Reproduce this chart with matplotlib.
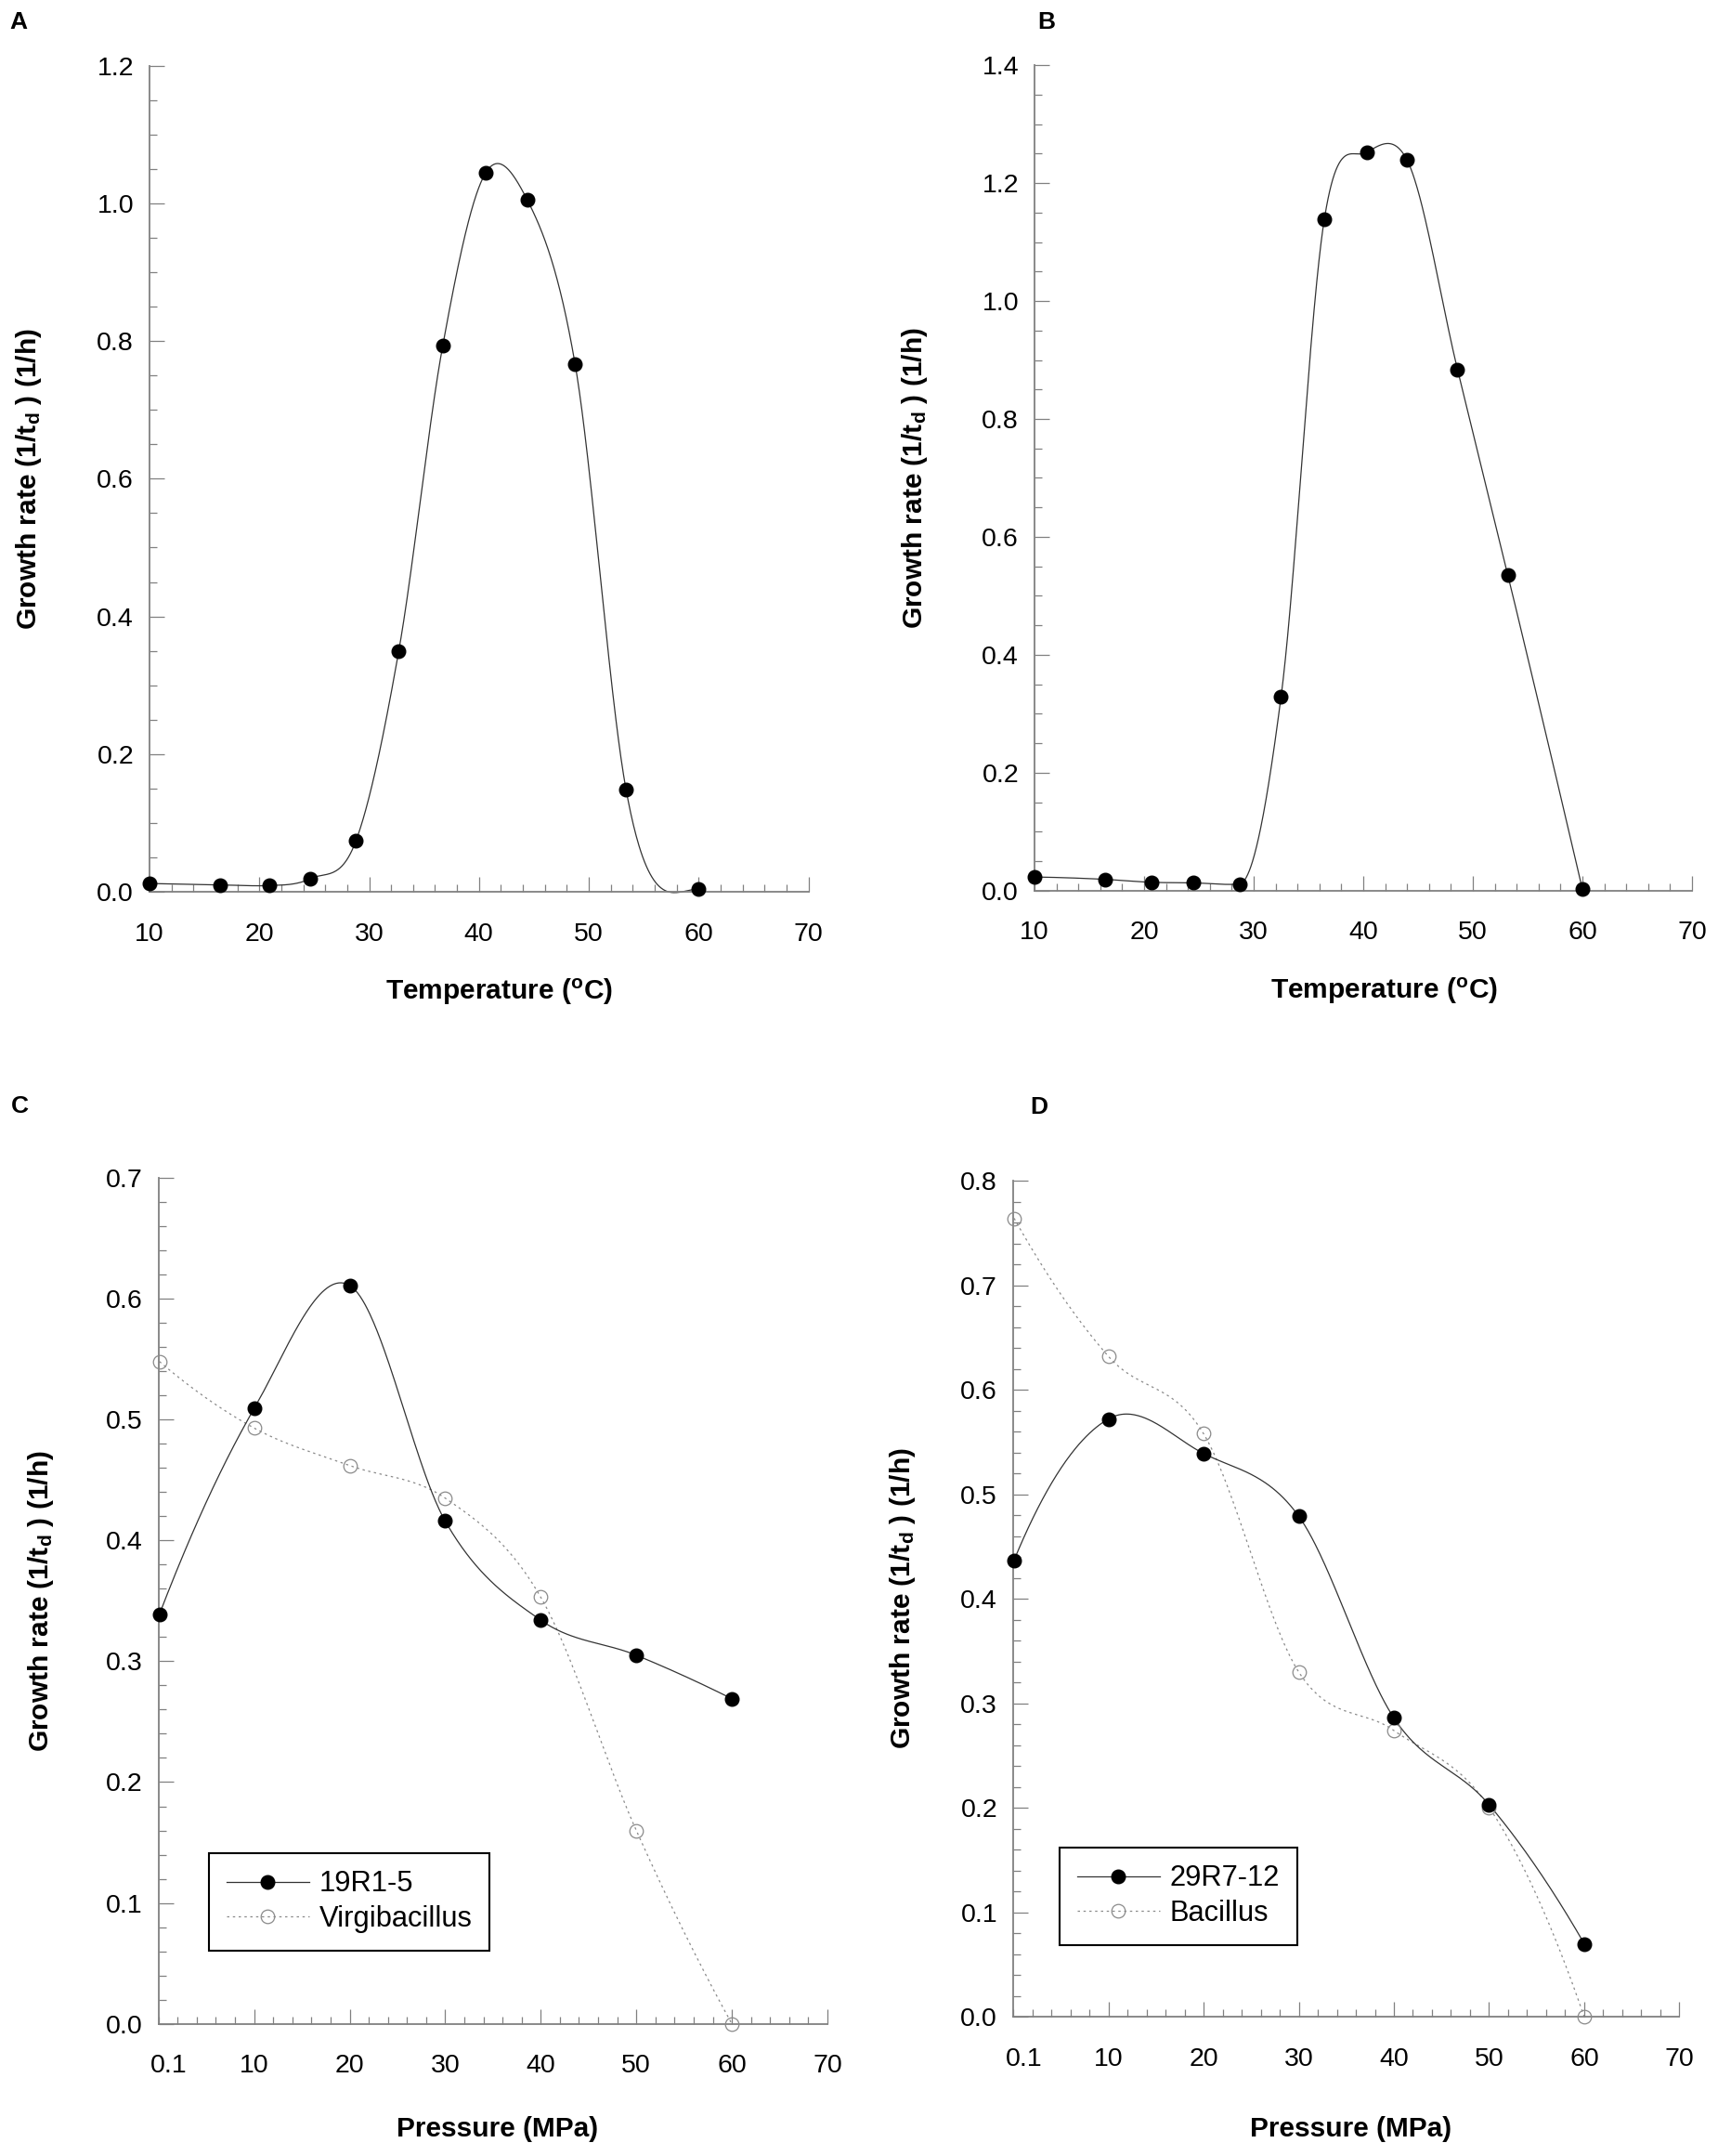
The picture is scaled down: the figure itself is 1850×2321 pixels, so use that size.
import numpy as np
import matplotlib
matplotlib.use("Agg")
import matplotlib.pyplot as plt
from matplotlib.lines import Line2D
from matplotlib.ticker import MultipleLocator, FixedLocator, FixedFormatter, FormatStrFormatter

plt.rcParams['font.family'] = ['Liberation Sans', 'DejaVu Sans']
plt.rcParams['mathtext.fontset'] = 'custom'
plt.rcParams['mathtext.rm'] = 'Liberation Sans:bold'
plt.rcParams['mathtext.it'] = 'Liberation Sans:bold'
plt.rcParams['mathtext.bf'] = 'Liberation Sans:bold'

# ---------------- data ----------------
temp_a = [10, 16.4, 20.9, 24.65, 28.8, 32.7, 36.7, 40.6, 44.4, 48.75, 53.4, 60]
rate_a = [0.012, 0.010, 0.009, 0.019, 0.074, 0.350, 0.793, 1.044, 1.005, 0.767, 0.148, 0.004]

temp_b = [10, 16.4, 20.7, 24.5, 28.7, 32.5, 36.45, 40.3, 44.0, 48.6, 53.2, 60]
rate_b = [0.023, 0.019, 0.014, 0.013, 0.011, 0.329, 1.139, 1.252, 1.239, 0.884, 0.535, 0.002]

pressure = [0.1, 10, 20, 30, 40, 50, 60]
rate_19r1_5 = [0.339, 0.509, 0.611, 0.416, 0.334, 0.305, 0.269]
rate_virgibacillus = [0.548, 0.493, 0.462, 0.435, 0.353, 0.160, 0.0]
rate_29r7_12 = [0.437, 0.572, 0.539, 0.479, 0.286, 0.203, 0.070]
rate_bacillus = [0.764, 0.632, 0.558, 0.330, 0.274, 0.2005, 0.0]

temp_ticks = [10, 20, 30, 40, 50, 60, 70]
temp_ticklabels = ['10', '20', '30', '40', '50', '60', '70']
press_ticks = [1.1, 10, 20, 30, 40, 50, 60, 70]
press_ticklabels = ['0.1', '10', '20', '30', '40', '50', '60', '70']

ylabel = 'Growth rate (1/t$_\\mathrm{d}$ ) (1/h)'
xlabel_temp = 'Temperature ($^\\mathrm{o}$C)'
xlabel_press = 'Pressure (MPa)'


def smooth_curve(x, y, n=80):
    """Smooth Hermite curve through the points (drawing only)."""
    x = np.asarray(x, float)
    y = np.asarray(y, float)
    h = np.diff(x)
    d = np.diff(y) / h
    k = len(x)
    m = np.zeros(k)
    for i in range(1, k - 1):
        m[i] = (d[i - 1] * h[i] + d[i] * h[i - 1]) / (h[i - 1] + h[i])
        if d[i - 1] * d[i] <= 0:
            lim = 3 * min(abs(d[i - 1]), abs(d[i]))
            m[i] = np.clip(m[i], -lim, lim)
    m0 = ((2 * h[0] + h[1]) * d[0] - h[0] * d[1]) / (h[0] + h[1])
    if m0 * d[0] <= 0:
        m0 = 0.0
    elif d[0] * d[1] < 0 and abs(m0) > 3 * abs(d[0]):
        m0 = 3 * d[0]
    m[0] = m0
    mn = ((2 * h[-1] + h[-2]) * d[-1] - h[-1] * d[-2]) / (h[-1] + h[-2])
    if mn * d[-1] <= 0:
        mn = 0.0
    elif d[-1] * d[-2] < 0 and abs(mn) > 3 * abs(d[-1]):
        mn = 3 * d[-1]
    m[-1] = mn
    xs, ys = [], []
    for i in range(k - 1):
        t = np.linspace(0, 1, n, endpoint=(i == k - 2))
        h00 = 2 * t**3 - 3 * t**2 + 1
        h10 = t**3 - 2 * t**2 + t
        h01 = -2 * t**3 + 3 * t**2
        h11 = t**3 - t**2
        xs.append(x[i] + t * h[i])
        ys.append(h00 * y[i] + h10 * h[i] * m[i] + h01 * y[i + 1] + h11 * h[i] * m[i + 1])
    return np.concatenate(xs), np.concatenate(ys)


W, H = 1850, 2321
fig = plt.figure(figsize=(W / 100, H / 100), dpi=100)


def rect(left, right, top, bottom):
    return [left / W, 1 - bottom / H, (right - left) / W, (bottom - top) / H]


SPINE = '#808080'
LINE = '#333333'
DOT = '#8a8a8a'
TICK_FS = 20.5
LABEL_FS = 21.5
MS = 10.5


def style_axes(ax, xlim, ylim, ymajor, yminor):
    ax.set_xlim(*xlim)
    ax.set_ylim(*ylim)
    for s in ['top', 'right']:
        ax.spines[s].set_visible(False)
    for s in ['left', 'bottom']:
        ax.spines[s].set_color(SPINE)
        ax.spines[s].set_linewidth(1.3)
    ax.yaxis.set_major_locator(MultipleLocator(ymajor))
    ax.yaxis.set_minor_locator(MultipleLocator(yminor))
    ax.yaxis.set_major_formatter(FormatStrFormatter('%.1f'))
    ax.xaxis.set_minor_locator(MultipleLocator(2))
    ax.tick_params(which='both', direction='in', color=SPINE, width=0.9,
                   top=False, right=False)
    ax.tick_params(which='major', length=11.3)
    ax.tick_params(which='minor', length=6)
    ax.tick_params(axis='x', which='major', labelsize=TICK_FS, pad=23.5)
    ax.tick_params(axis='y', which='major', labelsize=TICK_FS, pad=12.2)
    ax.set_facecolor('none')


def plot_filled(ax, x, y):
    xs, ys = smooth_curve(x, y)
    ax.plot(xs, ys, color=LINE, lw=0.9, clip_on=False, zorder=2)
    ax.plot(x, y, linestyle='none', marker='o', ms=MS, mfc='black', mec='black',
            clip_on=False, zorder=4)


def plot_open(ax, x, y):
    xs, ys = smooth_curve(x, y)
    ax.plot(xs, ys, color=DOT, lw=0.9, linestyle=(0, (2, 3)), clip_on=False, zorder=2)
    ax.plot(x, y, linestyle='none', marker='o', ms=MS, mfc='none', mec=DOT,
            mew=0.9, clip_on=False, zorder=3)


def set_labels(ax, xlabel, xl_pos, yl_x):
    ax.set_xlabel(xlabel, fontsize=LABEL_FS, fontweight='bold')
    ax.set_ylabel(ylabel, fontsize=LABEL_FS, fontweight='bold')
    ax.xaxis.set_label_coords(*xl_pos)
    ax.xaxis.label.set_va('center')
    ax.yaxis.set_label_coords(yl_x, 0.5)
    ax.yaxis.label.set_va('center')


# ---------------- Panel A ----------------
axA = fig.add_axes(rect(161, 870.5, 70.7, 960))
style_axes(axA, (10, 70), (0, 1.2), 0.2, 0.05)
axA.xaxis.set_major_locator(FixedLocator(temp_ticks))
axA.xaxis.set_major_formatter(FixedFormatter(temp_ticklabels))
plot_filled(axA, temp_a, rate_a)
set_labels(axA, xlabel_temp, (0.53, -0.121), -0.183)

# ---------------- Panel B ----------------
axB = fig.add_axes(rect(1114, 1822, 70.2, 958.7))
style_axes(axB, (10, 70), (0, 1.4), 0.2, 0.05)
axB.xaxis.set_major_locator(FixedLocator(temp_ticks))
axB.xaxis.set_major_formatter(FixedFormatter(temp_ticklabels))
plot_filled(axB, temp_b, rate_b)
set_labels(axB, xlabel_temp, (0.532, -0.122), -0.182)

# ---------------- Panel C ----------------
axC = fig.add_axes(rect(170.7, 891, 1268, 2178.7))
style_axes(axC, (0, 70), (0, 0.7), 0.1, 0.02)
axC.xaxis.set_major_locator(FixedLocator(press_ticks))
axC.xaxis.set_major_formatter(FixedFormatter(press_ticklabels))
plot_open(axC, pressure, rate_virgibacillus)
plot_filled(axC, pressure, rate_19r1_5)
set_labels(axC, xlabel_press, (0.507, -0.124), -0.176)

# ---------------- Panel D ----------------
axD = fig.add_axes(rect(1091, 1808.5, 1271, 2171.3))
style_axes(axD, (0, 70), (0, 0.8), 0.1, 0.02)
axD.xaxis.set_major_locator(FixedLocator(press_ticks))
axD.xaxis.set_major_formatter(FixedFormatter(press_ticklabels))
plot_open(axD, pressure, rate_bacillus)
plot_filled(axD, pressure, rate_29r7_12)
set_labels(axD, xlabel_press, (0.507, -0.134), -0.166)

for ax in (axC, axD):
    ax.xaxis.get_major_ticks()[0].tick1line.set_visible(False)

# legends
for ax, labs, pos in ((axC, ('19R1-5', 'Virgibacillus'), (225, 1995)),
                      (axD, ('29R7-12', 'Bacillus'), (1141, 1989))):
    h1 = Line2D([], [], color=LINE, lw=0.9, marker='o', ms=MS, mfc='black', mec='black')
    h2 = Line2D([], [], color=DOT, lw=0.9, linestyle=(0, (2, 3)), marker='o', ms=MS,
                mfc='none', mec=DOT, mew=0.9)
    leg = ax.legend([h1, h2], list(labs), loc='upper left',
                    bbox_to_anchor=(pos[0] / W, 1 - pos[1] / H),
                    bbox_transform=fig.transFigure, borderaxespad=0,
                    fontsize=22.2, handlelength=2.89, handletextpad=0.36,
                    borderpad=0.6, labelspacing=0.25, numpoints=1,
                    fancybox=False, framealpha=1, edgecolor='black')
    leg.get_frame().set_linewidth(1.5)

# panel letters
for letter, (px, py) in (('A', (10, 12)), ('B', (1117, 12)),
                         ('C', (12, 1179)), ('D', (1109, 1180))):
    fig.text(px / W, 1 - py / H, letter, fontsize=19, fontweight='bold',
             ha='left', va='top')

fig.savefig('out.png', dpi=100)
